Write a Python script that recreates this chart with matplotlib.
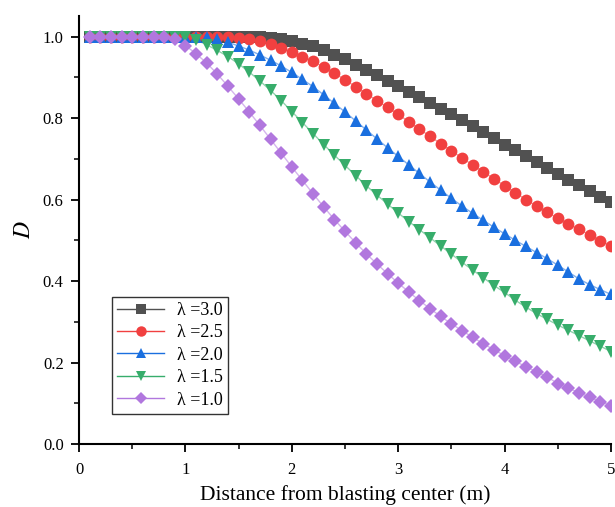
import matplotlib.pyplot as plt
import numpy as np

# ######## # Data (x = 0.1 ... 5.0 m, step 0.1)
distance = [round(0.1 * i, 1) for i in range(1, 51)]

d_lam30 = [1.0] * 16 + [
    0.998, 0.996, 0.993, 0.989, 0.983, 0.976, 0.967, 0.956, 0.944, 0.931,
    0.918, 0.905, 0.892, 0.879, 0.865, 0.851, 0.837, 0.823, 0.809, 0.795,
    0.780, 0.765, 0.750, 0.735, 0.721, 0.706, 0.692, 0.678, 0.663, 0.649,
    0.635, 0.621, 0.607, 0.594]

d_lam25 = [1.0] * 13 + [
    0.999, 0.997, 0.994, 0.988, 0.981, 0.972, 0.962, 0.951, 0.939, 0.925,
    0.910, 0.894, 0.877, 0.860, 0.843, 0.826, 0.809, 0.791, 0.773, 0.755,
    0.737, 0.720, 0.702, 0.685, 0.668, 0.651, 0.634, 0.617, 0.600, 0.584,
    0.569, 0.554, 0.540, 0.527, 0.513, 0.499, 0.486]

d_lam20 = [1.0] * 11 + [
    0.998, 0.993, 0.986, 0.977, 0.967, 0.955, 0.942, 0.928, 0.912, 0.895,
    0.877, 0.857, 0.836, 0.815, 0.793, 0.771, 0.749, 0.727, 0.706, 0.685,
    0.664, 0.643, 0.623, 0.603, 0.584, 0.566, 0.549, 0.532, 0.516, 0.500,
    0.485, 0.470, 0.455, 0.439, 0.422, 0.405, 0.391, 0.379, 0.367]

d_lam15 = [1.0] * 10 + [
    0.992, 0.980, 0.966, 0.951, 0.933, 0.913, 0.891, 0.868, 0.843, 0.816,
    0.789, 0.762, 0.735, 0.709, 0.684, 0.659, 0.634, 0.611, 0.589, 0.567,
    0.546, 0.526, 0.506, 0.486, 0.466, 0.446, 0.427, 0.408, 0.389, 0.372,
    0.353, 0.336, 0.320, 0.306, 0.292, 0.279, 0.266, 0.253, 0.240, 0.227]

d_lam10 = [1.0] * 8 + [
    0.993, 0.978, 0.958, 0.935, 0.908, 0.878, 0.847, 0.815, 0.782, 0.748,
    0.714, 0.680, 0.647, 0.614, 0.582, 0.551, 0.522, 0.494, 0.467, 0.442,
    0.418, 0.395, 0.373, 0.352, 0.332, 0.313, 0.295, 0.278, 0.262, 0.246,
    0.231, 0.217, 0.203, 0.190, 0.177, 0.165, 0.148, 0.137, 0.126, 0.115,
    0.104, 0.094]

labels = ["λ =3.0", "λ =2.5", "λ =2.0", "λ =1.5", "λ =1.0"]
series = [d_lam30, d_lam25, d_lam20, d_lam15, d_lam10]
colors = ["#515151", "#F14040", "#1A6FDF", "#37AD6B", "#B177DE"]
markers = ["s", "o", "^", "v", "D"]
msizes = [8, 8.5, 8.5, 8.5, 7.5]

plt.rcParams["font.family"] = ["Liberation Serif", "DejaVu Serif"]
plt.rcParams["mathtext.fontset"] = "stix"

fig = plt.figure(figsize=(6.15, 5.07), dpi=100)
ax = fig.add_axes([0.1285, 0.1243, 0.865, 0.8437])

for y, lab, c, m, ms in zip(series, labels, colors, markers, msizes):
    ax.plot(distance, y, color=c, lw=1.0, alpha=0.55, zorder=2)
    ax.plot(distance, y, ls="none", marker=m, ms=ms, color=c,
            markeredgewidth=0, zorder=3)
    # legend proxy
    ax.plot([], [], color=c, lw=1.0, marker=m, ms=ms - 1, markeredgewidth=0,
            label=lab)

ax.set_xlim(0, 5)
ax.set_ylim(0, 1.05)
ax.set_xticks([0, 1, 2, 3, 4, 5])
ax.set_xticks(np.arange(0.5, 5, 1.0), minor=True)
ax.set_yticks([0.0, 0.2, 0.4, 0.6, 0.8, 1.0])
ax.set_yticks([0.1, 0.3, 0.5, 0.7, 0.9], minor=True)
ax.yaxis.set_major_formatter(plt.FormatStrFormatter("%.1f"))

for s in ["top", "right"]:
    ax.spines[s].set_visible(False)
for s in ["left", "bottom"]:
    ax.spines[s].set_linewidth(1.5)

ax.tick_params(which="major", direction="out", length=6, width=1.3,
               labelsize=12)
ax.tick_params(axis="x", which="major", pad=7)
ax.tick_params(axis="y", which="major", pad=5)
ax.tick_params(which="minor", direction="out", length=3.5, width=1.1)

ax.set_xlabel("Distance from blasting center (m)", fontsize=15.5, labelpad=5)
ax.set_ylabel("$D$", fontsize=17, labelpad=6)

leg = ax.legend(loc="lower left", bbox_to_anchor=(0.062, 0.07),
                fontsize=13, frameon=True, fancybox=False,
                edgecolor="black", handlelength=2.6, handletextpad=0.7,
                labelspacing=0.3, borderpad=0.3, borderaxespad=0)
leg.get_frame().set_linewidth(1.0)
for h in leg.get_lines():
    h.set_alpha(1.0)

fig.savefig("out.png", dpi=100)
plt.close(fig)
